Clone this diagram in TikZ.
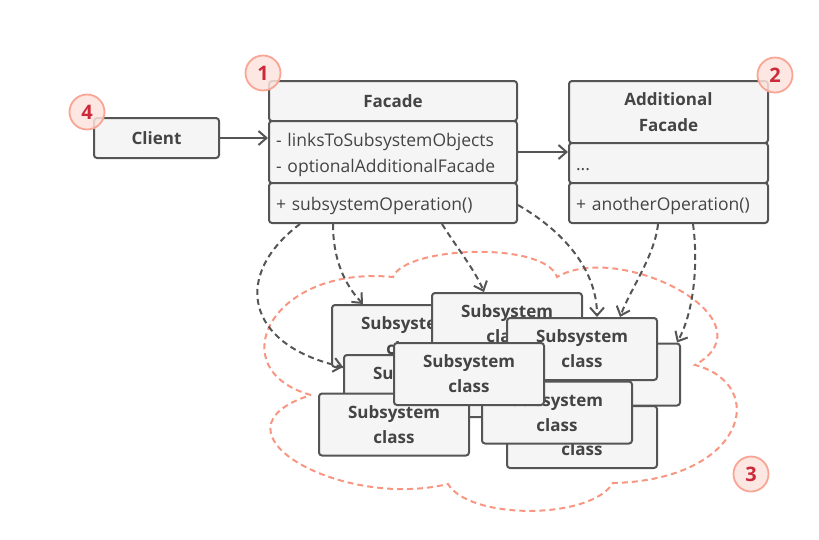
\documentclass[tikz,border=0pt]{standalone}
\usepackage{fontspec}
\setmainfont{Open Sans}
\usetikzlibrary{arrows.meta}
\definecolor{boxline}{HTML}{555555}
\definecolor{boxfill}{HTML}{F5F5F5}
\definecolor{txt}{HTML}{444444}
\definecolor{salmon}{HTML}{F89682}
\definecolor{badgefill}{HTML}{FDE3DD}
\definecolor{badgeline}{HTML}{F9A594}
\definecolor{badgetxt}{HTML}{CC2A3A}
\begin{document}
\begin{tikzpicture}[x=1pt,y=-1pt,
  box/.style={draw=boxline, fill=boxfill, line width=2pt, rounded corners=3pt, inner sep=0pt, text=txt},
  sub/.style={box, minimum width=150pt, minimum height=62pt, align=center, font=\bfseries\fontsize{17}{25}\selectfont},
  title/.style={box, align=center, font=\bfseries\fontsize{17}{26}\selectfont},
  member/.style={box, inner xsep=7pt, align=left, font=\fontsize{17.5}{26}\selectfont},
  oneline/.style={member, text height=18pt, text depth=3pt},
  assoc/.style={draw=boxline, line width=2pt, -{Straight Barb[length=8pt,width=14pt,line width=2pt]}},
  dep/.style={draw=boxline, line width=2pt, dash pattern=on 6pt off 4pt, -{Straight Barb[length=8pt,width=14pt,line width=2pt]}},
  badge/.style={circle, draw=badgeline, fill=badgefill, fill opacity=0.85, text opacity=1, line width=1.8pt, minimum size=35pt, inner sep=0pt, text=badgetxt, font=\bfseries\fontsize{20}{20}\selectfont},
  cloudline/.style={draw=salmon, line width=2pt, dash pattern=on 6pt off 4pt}
]
\useasboundingbox (0,0) rectangle (819,539);

% cloud
\path[cloudline] (311,395) .. controls (220,370) and (270,265) .. (393,277)
  .. controls (405,246) and (545,241) .. (557,277)
  .. controls (620,240) and (775,320) .. (695,365)
  .. controls (770,385) and (745,480) .. (613,483)
  .. controls (590,520) and (470,520) .. (448,484)
  .. controls (340,510) and (200,430) .. (311,395);

% top classes
\node[title, minimum width=125pt, minimum height=40pt] (client) at (156.5,138) {Client};
\node[title, minimum width=248pt, minimum height=40pt] (facT) at (393,101) {Facade};
\node[member, text width=234pt, minimum height=62pt] (facA) at (393,152) {\rule{0pt}{19.5pt}- linksToSubsystemObjects\\- optionalAdditionalFacade};
\node[oneline, text width=234pt, minimum height=40pt] (facM) at (393,203) {+ subsystemOperation()};
\node[title, minimum width=199pt, minimum height=62pt] (addT) at (668.5,112) {Additional\\Facade};
\node[oneline, text width=185pt, minimum height=40pt] (addA) at (668.5,163) {...};
\node[oneline, text width=185pt, minimum height=40pt] (addM) at (668.5,203) {+ anotherOperation()};

% subsystem classes
\node[sub] (sA) at (407,336) {Subsystem\\class};
\node[sub] (sB) at (507,324) {Subsystem\\class};
\node[sub] (sD) at (605,374.5) {Subsystem\\class};
\node[sub] (sC) at (582,349) {Subsystem\\class};
\node[sub] (sI) at (582,437) {Subsystem\\class};
\node[sub] (sE) at (419,386) {Subsystem\\class};
\node[sub] (sH) at (557,412.5) {Subsystem\\class};
\node[sub] (sG) at (394,424.5) {Subsystem\\class};
\node[sub] (sF) at (469,374) {Subsystem\\class};

% associations
\draw[assoc] (client.east) -- (client.east -| facA.west);
\draw[assoc] (facA.east) -- (facA.east -| addA.west);

% dependencies
\draw[dep] ([xshift=-93pt]facM.south) .. controls (232,275) and (245,345) .. ([yshift=19pt]sE.west);
\draw[dep] ([xshift=-60pt]facM.south) .. controls (333,260) and (345,285) .. ([xshift=-44pt]sA.north);
\draw[dep] ([xshift=49pt]facM.south) .. controls (455,245) and (475,270) .. ([xshift=-23pt]sB.north);
\draw[dep] ([yshift=-2pt]facM.east) .. controls (570,235) and (597,275) .. ([xshift=15pt]sC.north);
\draw[dep] ([xshift=-10.5pt]addM.south) .. controls (655,255) and (630,290) .. ([xshift=38pt]sC.north);
\draw[dep] ([xshift=24.5pt]addM.south) .. controls (698,260) and (695,310) .. ([xshift=72pt]sD.north);

% badges
\node[badge] (b1) at (263,73) {1};
\node[badge] (b2) at (775,75) {2};
\node[badge] (b3) at (751,474) {3};
\node[badge] (b4) at (87,112) {4};
\end{tikzpicture}
\end{document}
